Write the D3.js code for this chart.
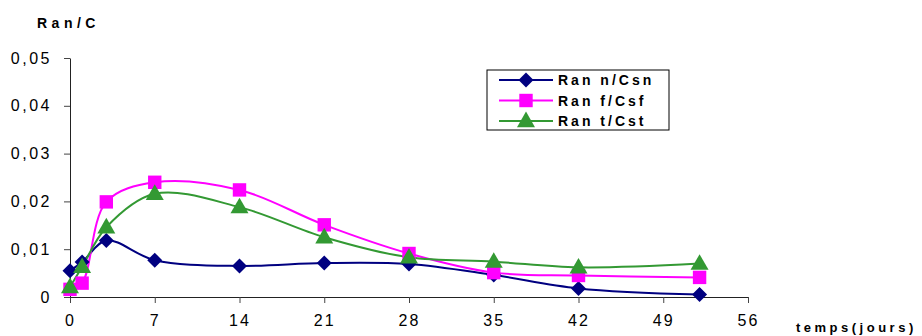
<!DOCTYPE html>
<html><head><meta charset="utf-8">
<script src="https://cdn.jsdelivr.net/npm/d3@7"></script>
<style>
body{margin:0;background:#fff;}
svg{display:block;font-family:"Liberation Sans",Arial,sans-serif;}
</style></head>
<body>
<svg id="c" width="922" height="336"></svg>
<script>
const days = [0, 1, 3, 7, 14, 21, 28, 35, 42, 52];
const seriesNames = ["Ran n/Csn", "Ran f/Csf", "Ran t/Cst"];
const ranN = [0.0055, 0.0073, 0.0118, 0.0077, 0.0065, 0.0071, 0.0069, 0.0046, 0.0018, 0.0005];
const ranF = [0.0016, 0.0029, 0.0199, 0.0240, 0.0224, 0.0151, 0.0091, 0.0051, 0.0045, 0.0041];
const ranT = [0.0021, 0.0063, 0.0146, 0.0216, 0.0188, 0.0125, 0.0083, 0.0074, 0.0062, 0.0070];
const xTicks = [0, 7, 14, 21, 28, 35, 42, 49, 56];
const yTicks = [0, 0.01, 0.02, 0.03, 0.04, 0.05];
const yTickLabels = ["0", "0,01", "0,02", "0,03", "0,04", "0,05"];
const colors = ["#000080", "#FF00FF", "#339933"];
const shapes = ["diamond", "square", "triangle"];

const svg = d3.select("#c");
const x = d3.scaleLinear().domain([0, 56]).range([70, 748]);
const y = d3.scaleLinear().domain([0, 0.05]).range([297, 58]);

// axes
const xAxis = svg.append("g").attr("transform", "translate(0,297)")
  .call(d3.axisBottom(x).tickValues(xTicks).tickSize(6).tickSizeOuter(0).tickPadding(12));
xAxis.select(".domain").attr("stroke", "#222");
xAxis.selectAll(".tick line").attr("stroke", "#444");
xAxis.selectAll("text").attr("font-size", 16).attr("fill", "#000")
  .style("letter-spacing", "2px").attr("font-family", "Liberation Sans, Arial, sans-serif");

const yAxis = svg.append("g").attr("transform", "translate(70,0)")
  .call(d3.axisLeft(y).tickValues(yTicks).tickFormat((d, i) => yTickLabels[i]).tickSize(6).tickSizeOuter(0).tickPadding(12));
yAxis.select(".domain").attr("stroke", "#222");
yAxis.selectAll(".tick line").attr("stroke", "#444");
yAxis.selectAll("text").attr("font-size", 16).attr("fill", "#000")
  .style("letter-spacing", "2.5px").attr("font-family", "Liberation Sans, Arial, sans-serif");

svg.append("text").attr("x", 37).attr("y", 28).attr("font-size", 14).attr("font-weight", "bold")
  .style("letter-spacing", "4.5px").text("Ran/C");
svg.append("text").attr("x", 796).attr("y", 332).attr("font-size", 13).attr("font-weight", "bold")
  .style("letter-spacing", "3.5px").text("temps(jours)");

const diamondPath = d3.path();
diamondPath.moveTo(0, -7.5); diamondPath.lineTo(7.5, 0); diamondPath.lineTo(0, 7.5); diamondPath.lineTo(-7.5, 0); diamondPath.closePath();
const symGen = {
  diamond: () => diamondPath.toString(),
  square: d3.symbol().type(d3.symbolSquare).size(180),
  triangle: d3.symbol().type(d3.symbolTriangle).size(140)
};

const line = d3.line().x((d, i) => x(days[i])).y(d => y(d)).curve(d3.curveCatmullRom.alpha(0.5));
const all = [ranN, ranF, ranT];

all.forEach((vals, k) => {
  svg.append("path").attr("d", line(vals)).attr("fill", "none")
    .attr("stroke", colors[k]).attr("stroke-width", 2);
});
all.forEach((vals, k) => {
  svg.append("g").selectAll("path").data(vals).join("path")
    .attr("transform", (d, i) => `translate(${x(days[i])},${y(d) + (shapes[k] === "triangle" ? 1 : 0)})`)
    .attr("d", symGen[shapes[k]]).attr("fill", colors[k]);
});

// legend
const lg = svg.append("g");
lg.append("rect").attr("x", 487).attr("y", 70).attr("width", 182).attr("height", 60)
  .attr("fill", "#fff").attr("stroke", "#000").attr("stroke-width", 1);
seriesNames.forEach((name, k) => {
  const yy = 80 + k * 20.5;
  lg.append("line").attr("x1", 499).attr("x2", 553).attr("y1", yy).attr("y2", yy)
    .attr("stroke", colors[k]).attr("stroke-width", 2);
  lg.append("path").attr("transform", `translate(526,${yy + (shapes[k] === "triangle" ? 1 : 0)})`)
    .attr("d", symGen[shapes[k]]).attr("fill", colors[k]);
  lg.append("text").attr("x", 558).attr("y", yy + 5).attr("font-size", 14).attr("font-weight", "bold")
    .style("letter-spacing", "3px").text(name);
});
</script>
</body></html>
